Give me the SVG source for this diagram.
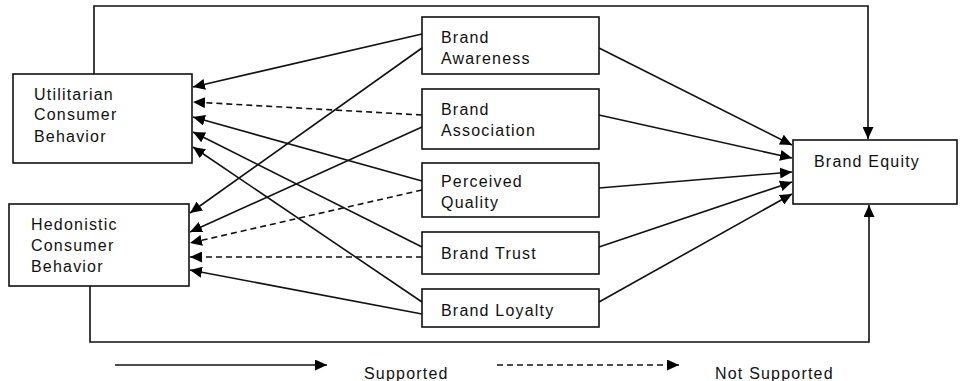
<svg xmlns="http://www.w3.org/2000/svg" width="964" height="381" viewBox="0 0 964 381">
<defs>
<marker id="ah" markerUnits="userSpaceOnUse" markerWidth="13" markerHeight="11" refX="12" refY="5.5" orient="auto">
<path d="M0,0 L12,5.5 L0,11 Z" fill="#000"/>
</marker>
</defs>
<style>
.box{fill:#fff;stroke:#111;stroke-width:1.6}
.t{font-family:"Liberation Sans",Arial,sans-serif;font-size:16px;letter-spacing:1.2px;fill:#111}
.c{fill:none;stroke:#111;stroke-width:1.6}
.a{fill:none;stroke:#111;stroke-width:1.6;marker-end:url(#ah)}
.d{fill:none;stroke:#111;stroke-width:1.6;stroke-dasharray:6 4;marker-end:url(#ah)}
</style>
<rect width="964" height="381" fill="#fff"/>
<g id="connectors">
<polyline class="a" points="94,74 94,6 868,6 868,139"/>
<polyline class="a" points="90,286 90,342 869,342 869,205"/>
<line class="a" x1="422" y1="34" x2="193" y2="87"/>
<line class="d" x1="422" y1="115" x2="193" y2="102"/>
<line class="a" x1="422" y1="181" x2="193" y2="117"/>
<line class="a" x1="422" y1="247" x2="193" y2="132"/>
<line class="a" x1="422" y1="302" x2="193" y2="147"/>
<line class="a" x1="422" y1="48" x2="190" y2="213"/>
<line class="a" x1="422" y1="127" x2="190" y2="232"/>
<line class="d" x1="422" y1="190" x2="190" y2="243"/>
<line class="d" x1="422" y1="257" x2="190" y2="257"/>
<line class="a" x1="422" y1="314" x2="190" y2="270"/>
<line class="a" x1="599" y1="48" x2="792" y2="145"/>
<line class="a" x1="599" y1="115" x2="792" y2="158"/>
<line class="a" x1="599" y1="188" x2="792" y2="172"/>
<line class="a" x1="599" y1="247" x2="792" y2="182"/>
<line class="a" x1="599" y1="302" x2="792" y2="194"/>
<line class="a" x1="115" y1="365" x2="327" y2="365"/>
<line class="d" x1="497" y1="365" x2="679" y2="365"/>
</g>
<g id="utilitarian">
<rect class="box" x="13" y="74" width="179" height="89"/>
<text class="t" x="34" y="100">Utilitarian</text>
<text class="t" x="34" y="120">Consumer</text>
<text class="t" x="34" y="142">Behavior</text>
</g>
<g id="hedonistic">
<rect class="box" x="9" y="204" width="180" height="82"/>
<text class="t" x="31" y="230">Hedonistic</text>
<text class="t" x="31" y="251">Consumer</text>
<text class="t" x="31" y="272">Behavior</text>
</g>
<g id="awareness">
<rect class="box" x="422" y="17" width="177" height="57"/>
<text class="t" x="441" y="43">Brand</text>
<text class="t" x="441" y="64">Awareness</text>
</g>
<g id="association">
<rect class="box" x="422" y="89" width="177" height="60"/>
<text class="t" x="441" y="115">Brand</text>
<text class="t" x="441" y="136">Association</text>
</g>
<g id="quality">
<rect class="box" x="422" y="163" width="177" height="54"/>
<text class="t" x="441" y="187">Perceived</text>
<text class="t" x="441" y="208">Quality</text>
</g>
<g id="trust">
<rect class="box" x="422" y="232" width="177" height="42"/>
<text class="t" x="441" y="259">Brand Trust</text>
</g>
<g id="loyalty">
<rect class="box" x="422" y="289" width="177" height="38"/>
<text class="t" x="441" y="316">Brand Loyalty</text>
</g>
<g id="equity">
<rect class="box" x="793" y="140" width="164" height="64"/>
<text class="t" x="814" y="167">Brand Equity</text>
</g>
<g id="legend">
<text class="t" x="364" y="379">Supported</text>
<text class="t" x="715" y="379">Not Supported</text>
</g>
</svg>
